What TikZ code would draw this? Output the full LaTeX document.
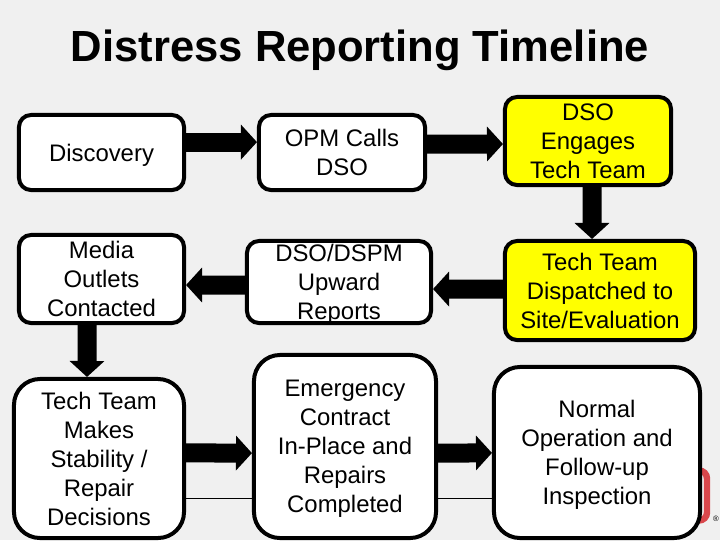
\documentclass[tikz,border=0pt]{standalone}
\usepackage{fontspec}
\setmainfont{Liberation Sans}
\usetikzlibrary{arrows.meta}
\definecolor{slidebg}{HTML}{F0F0F0}
\definecolor{logored}{HTML}{D9474C}
\definecolor{hotyellow}{RGB}{255,255,0}
\tikzset{
    tbox/.style={draw=black,fill=white,line width=0.1cm,rounded corners=0.3cm,align=center,inner sep=0pt,
        font=\fontsize{17}{20.6}\selectfont,text depth=-3.5pt},
    bigbox/.style={tbox,rounded corners=0.65cm},
    hotbox/.style={tbox,fill=hotyellow},
    flow/.style={draw=black,line width=0.475cm,-{Triangle[length=0.4cm,width=0.85cm]}},
    rulerline/.style={draw=black,line width=0.4pt},
}
\begin{document}
\begin{tikzpicture}[x=0.025cm,y=-0.025cm]
    \path[fill=slidebg] (0,0) rectangle (720,540);
    \useasboundingbox (0,0) rectangle (720,540);
    \node[font=\fontsize{31}{36}\selectfont\bfseries] (title) at (360,50) {Distress Reporting Timeline};

    % what shows from behind the boxes
    \draw[logored,line width=0.16cm,rounded corners=0.2cm] (650,470.5) rectangle (707,520.5);
    \node[font=\fontsize{5.5}{6}\selectfont,inner sep=0pt] (mark) at (716,519) {®};
    \coordinate (rule) at (0,498);

    \node[tbox,minimum width=4.125cm,minimum height=1.875cm,text depth=0pt] (disc) at (101.5,152.5) {Discovery};
    \node[tbox,minimum width=4.15cm,minimum height=1.875cm] (opm) at (342,152.5) {OPM Calls\\DSO};
    \node[hotbox,minimum width=4.15cm,minimum height=2.2cm] (engage) at (588,141) {DSO\\Engages\\Tech Team};
    \node[tbox,minimum width=4.125cm,minimum height=2.2cm] (media) at (101.5,279) {Media\\Outlets\\Contacted};
    \node[tbox,minimum width=4.6cm,minimum height=2.05cm] (upward) at (339,282) {DSO/DSPM\\Upward\\Reports};
    \node[hotbox,minimum width=4.75cm,minimum height=2.475cm] (dispatch) at (600,290.5) {Tech Team\\Dispatched to\\Site/Evaluation};
    \node[bigbox,minimum width=4.25cm,minimum height=3.975cm] (makes) at (99,458.5) {Tech Team\\Makes\\Stability /\\Repair\\Decisions};
    \node[bigbox,minimum width=4.55cm,minimum height=4.575cm] (contract) at (345,446.5) {Emergency\\Contract\\In-Place and\\Repairs\\Completed};
    \node[bigbox,minimum width=5.15cm,minimum height=4.275cm] (normal) at (597,452.5) {Normal\\Operation and\\Follow-up\\Inspection};

    \draw[rulerline] (makes.east |- rule) -- (contract.west |- rule);
    \draw[rulerline] (contract.east |- rule) -- (normal.west |- rule);

    \draw[flow] ([yshift=0.26cm]disc.east) -- ([yshift=0.26cm]opm.west);
    \draw[flow] ([yshift=0.21cm]opm.east) -- ([yshift=-0.075cm]engage.west);
    \draw[flow] ([xshift=0.1cm]engage.south) -- ([xshift=-0.2cm]dispatch.north);
    \draw[flow] ([yshift=0.035cm]dispatch.west) -- ([yshift=-0.175cm]upward.east);
    \draw[flow] ([yshift=-0.075cm]upward.west) -- ([yshift=-0.15cm]media.east);
    \draw[flow] ([xshift=-0.36cm]media.south) -- ([xshift=-0.3cm]makes.north);
    \draw[flow] ([yshift=0.14cm]makes.east) -- ([yshift=-0.165cm]contract.west);
    \draw[flow] ([yshift=-0.165cm]contract.east) -- ([yshift=-0.01cm]normal.west);
\end{tikzpicture}
\end{document}
